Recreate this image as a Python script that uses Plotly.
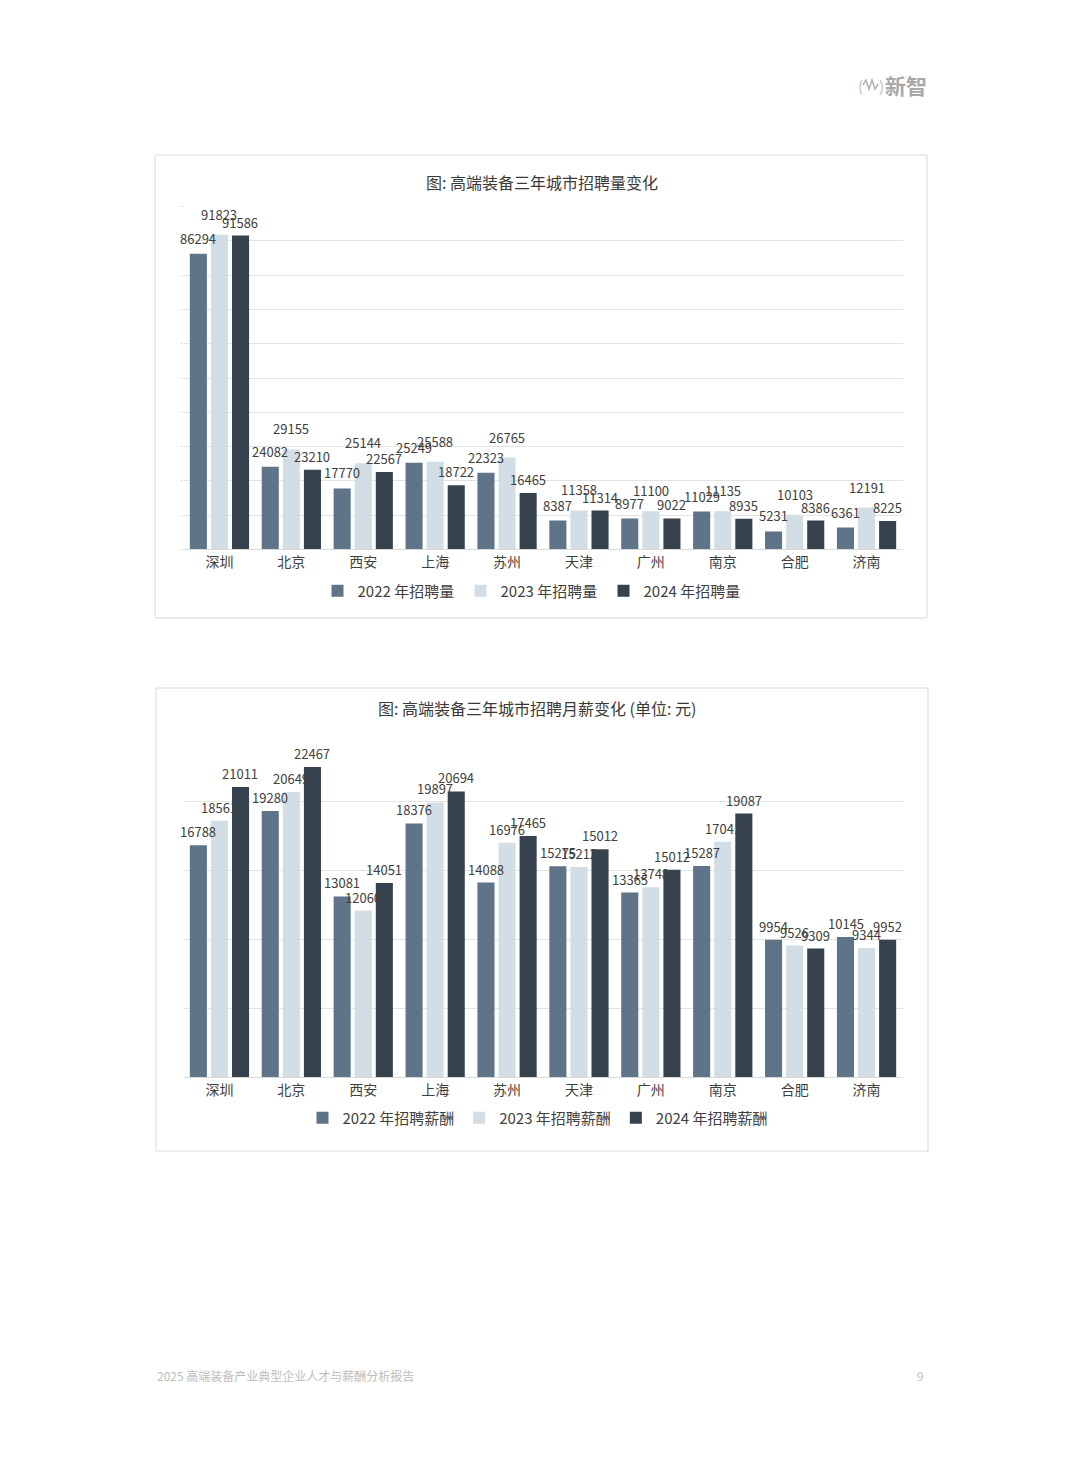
import plotly.graph_objects as go

# Page size of the reference; the browser adds an 8 px body margin,
# so the figure itself is 8 px smaller and all page coordinates are shifted.
PAGE_W, PAGE_H = 1080, 1466
OFF = 8
W, H = PAGE_W - OFF, PAGE_H - OFF
FONT = "Noto Sans CJK SC"

cities = ["深圳", "北京", "西安", "上海", "苏州", "天津", "广州", "南京", "合肥", "济南"]

# Chart 1: recruitment volume
vol_2022 = [86294, 24082, 17770, 25249, 22323, 8387, 8977, 11029, 5231, 6361]
vol_2023 = [91823, 29155, 25144, 25588, 26765, 11358, 11100, 11135, 10103, 12191]
vol_2024 = [91586, 23210, 22567, 18722, 16465, 11314, 9022, 8935, 8386, 8225]

# Chart 2: monthly salary (bar heights; labels as printed)
sal_2022 = [16788, 19280, 13081, 18376, 14088, 15275, 13365, 15287, 9954, 10145]
sal_2023 = [18561, 20649, 12060, 19897, 16976, 15212, 13748, 17041, 9526, 9344]
sal_2024 = [21011, 22467, 14051, 20694, 17465, 16500, 15012, 19087, 9309, 9952]
sal_2024_labels = ["21011", "22467", "14051", "20694", "17465", "15012", "15012", "19087", "9309", "9952"]

vol_names = ["2022 年招聘量", "2023 年招聘量", "2024 年招聘量"]
sal_names = ["2022 年招聘薪酬", "2023 年招聘薪酬", "2024 年招聘薪酬"]
colors = ["#5f7389", "#d3dde6", "#37424f"]


def px(x):
    return (x - OFF) / W


def py(y):
    return 1 - (y - OFF) / H


fig = go.Figure()

for vals, name, c in zip([vol_2022, vol_2023, vol_2024], vol_names, colors):
    fig.add_trace(go.Bar(
        x=cities, y=vals, name=name, marker=dict(color=c, line=dict(width=0)),
        xaxis="x", yaxis="y", legend="legend", hoverinfo="x+y",
    ))

for vals, name, c in zip([sal_2022, sal_2023, sal_2024], sal_names, colors):
    fig.add_trace(go.Bar(
        x=cities, y=vals, name=name, marker=dict(color=c, line=dict(width=0)),
        xaxis="x2", yaxis="y2", legend="legend2", hoverinfo="x+y",
    ))

tick_font = dict(family=FONT, size=14, color="#404040")
legend_font = dict(family=FONT, size=15, color="#404040")
n = len(cities)

fig.update_layout(
    width=W, height=H,
    margin=dict(l=0, r=0, t=0, b=0),
    paper_bgcolor="white", plot_bgcolor="white",
    font=dict(family=FONT, color="#404040"),
    barmode="group", bargap=0.12, bargroupgap=0.19,
    xaxis=dict(domain=[px(183.5), px(902.5)], anchor="y", showgrid=False,
               range=[-0.5, n - 0.5], autorange=False,
               showline=True, linecolor="#d9d9d9", linewidth=1,
               tickfont=tick_font, ticks="", fixedrange=True),
    yaxis=dict(domain=[py(549.3), py(206.7)], anchor="x", range=[0, 100000],
               autorange=False, dtick=10000, showticklabels=False, showgrid=True,
               gridcolor="#e3e3e3", gridwidth=1, zeroline=False,
               ticks="outside", ticklen=3, tickcolor="#e3e3e3", fixedrange=True),
    xaxis2=dict(domain=[px(183.5), px(902.5)], anchor="y2", showgrid=False,
                range=[-0.5, n - 0.5], autorange=False,
                showline=True, linecolor="#d9d9d9", linewidth=1,
                tickfont=tick_font, ticks="", fixedrange=True),
    yaxis2=dict(domain=[py(1077), py(732)], anchor="x2", range=[0, 25000],
                autorange=False, dtick=5000, showticklabels=False, showgrid=True,
                gridcolor="#e3e3e3", gridwidth=1, zeroline=False, fixedrange=True),
    legend=dict(orientation="h", x=px(532), y=py(591), xanchor="center", yanchor="middle",
                font=legend_font, bgcolor="rgba(0,0,0,0)", itemclick=False,
                traceorder="normal", itemwidth=30, entrywidth=98, entrywidthmode="pixels"),
    legend2=dict(orientation="h", x=px(538), y=py(1118), xanchor="center", yanchor="middle",
                 font=legend_font, bgcolor="rgba(0,0,0,0)", itemclick=False,
                 traceorder="normal", itemwidth=30),
    showlegend=True,
)

# Frames around each chart
shapes = [
    dict(type="rect", xref="paper", yref="paper", x0=px(155), x1=px(927), y0=py(618), y1=py(155),
         line=dict(color="#d9d9d9", width=1), fillcolor="rgba(0,0,0,0)", layer="below"),
    dict(type="rect", xref="paper", yref="paper", x0=px(156), x1=px(928), y0=py(1151), y1=py(688),
         line=dict(color="#d9d9d9", width=1), fillcolor="rgba(0,0,0,0)", layer="below"),
]

# Logo wave icon
wave_pts = [(863, 85), (866, 80), (869, 89), (872, 80), (875, 89), (878, 84)]
path = "M " + " L ".join(f"{px(x):.5f},{py(y):.5f}" for x, y in wave_pts)
shapes.append(dict(type="path", xref="paper", yref="paper", path=path,
                   line=dict(color="#b0b0b0", width=1.5)))
fig.update_layout(shapes=shapes)

label_font = dict(family=FONT, size=13, color="#404040")
slot = 21  # pixel distance between bar centres within a group

annotations = []
# value labels, chart 1
for i, (vals, ysh) in enumerate(zip([vol_2022, vol_2023, vol_2024], [4, 9, 2])):
    for city, v in zip(cities, vals):
        annotations.append(dict(
            text=str(v), x=city, y=v, xref="x", yref="y", showarrow=False,
            xanchor="center", yanchor="bottom", xshift=(i - 1) * slot, yshift=ysh,
            font=label_font))
# value labels, chart 2
sal_labels = [[str(v) for v in sal_2022], [str(v) for v in sal_2023], sal_2024_labels]
for i, (vals, labs) in enumerate(zip([sal_2022, sal_2023, sal_2024], sal_labels)):
    for city, v, lab in zip(cities, vals, labs):
        annotations.append(dict(
            text=lab, x=city, y=v, xref="x2", yref="y2", showarrow=False,
            xanchor="center", yanchor="bottom", xshift=(i - 1) * slot, yshift=2,
            font=label_font))

annotations += [
    dict(text="图: 高端装备三年城市招聘量变化", x=px(542), y=py(182), xref="paper", yref="paper",
         showarrow=False, xanchor="center", yanchor="middle",
         font=dict(family=FONT, size=16, color="#3a3a3a")),
    dict(text="图: 高端装备三年城市招聘月薪变化 (单位: 元)", x=px(537), y=py(708), xref="paper", yref="paper",
         showarrow=False, xanchor="center", yanchor="middle",
         font=dict(family=FONT, size=16, color="#3a3a3a")),
    dict(text="<b>新智</b>", x=px(929), y=py(85), xref="paper", yref="paper",
         showarrow=False, xanchor="right", yanchor="middle",
         font=dict(family=FONT, size=21, color="#a8a8a8")),
    dict(text="(", x=px(860), y=py(85), xref="paper", yref="paper",
         showarrow=False, xanchor="center", yanchor="middle",
         font=dict(family=FONT, size=15, color="#c0c0c0")),
    dict(text=")", x=px(881), y=py(85), xref="paper", yref="paper",
         showarrow=False, xanchor="center", yanchor="middle",
         font=dict(family=FONT, size=15, color="#c0c0c0")),
    dict(text="2025 高端装备产业典型企业人才与薪酬分析报告", x=px(155), y=py(1375), xref="paper", yref="paper",
         showarrow=False, xanchor="left", yanchor="middle",
         font=dict(family=FONT, size=12, color="#bdbdbd")),
    dict(text="9", x=px(926), y=py(1375), xref="paper", yref="paper",
         showarrow=False, xanchor="right", yanchor="middle",
         font=dict(family=FONT, size=12, color="#bdbdbd")),
]
fig.update_layout(annotations=annotations)

fig.write_html("out.html")
